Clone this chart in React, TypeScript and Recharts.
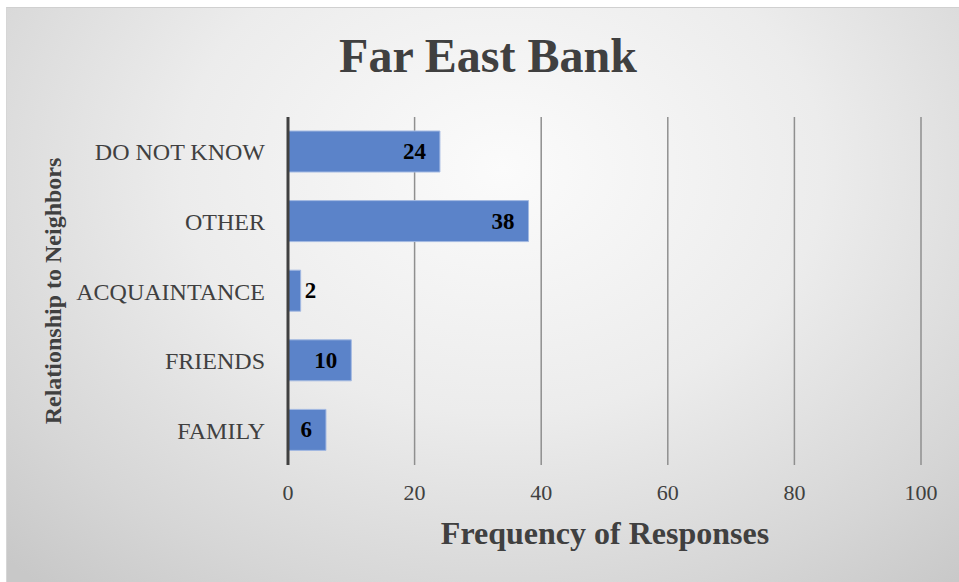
import React from "react";
import { BarChart, Bar, XAxis, YAxis, CartesianGrid, LabelList } from "recharts";

const categories = ["DO NOT KNOW", "OTHER", "ACQUAINTANCE", "FRIENDS", "FAMILY"];
const frequencies = [24, 38, 2, 10, 6];
const xTicks = [0, 20, 40, 60, 80, 100];

const data = categories.map((c, i) => ({ category: c, value: frequencies[i] }));

const FONT = "'Liberation Serif', 'Times New Roman', serif";

const ValueLabel = (props: any) => {
  const { x, y, width, height, value } = props;
  const inside = width > 30;
  return (
    <text
      x={inside ? x + width - 14 : x + width + 4}
      y={y + height / 2}
      textAnchor={inside ? "end" : "start"}
      dominantBaseline="central"
      fontFamily={FONT}
      fontWeight="bold"
      fontSize={23}
      fill="#000"
    >
      {value}
    </text>
  );
};

export default function App() {
  return (
    <div style={{ position: "absolute", left: 0, top: 0, width: 959, height: 582, background: "#fff" }}>
      <div
        style={{
          position: "absolute",
          left: 6,
          top: 7,
          width: 953,
          height: 575,
          borderTop: "1px solid #d0d0d0",
          borderLeft: "1px solid #d6d6d6",
          boxSizing: "border-box",
          background:
            "radial-gradient(ellipse 75% 95% at 52% 28%, #fbfbfb 0%, #ececec 45%, #d6d6d6 80%, #c8c8c8 100%)",
        }}
      >
        <BarChart
          width={953}
          height={574}
          data={data}
          layout="vertical"
          margin={{ top: 109, right: 39, left: 0, bottom: 0 }}
          barSize={41}
        >
          <CartesianGrid horizontal={false} vertical stroke="#8f8f8f" strokeWidth={1.5} />
          <XAxis
            type="number"
            domain={[0, 100]}
            ticks={xTicks}
            interval={0}
            axisLine={false}
            tickLine={false}
            height={117}
            tickMargin={13}
            tick={{ fontFamily: FONT, fontSize: 22, fill: "#404040" }}
          />
          <YAxis
            type="category"
            dataKey="category"
            width={281}
            axisLine={{ stroke: "#404040", strokeWidth: 3 }}
            tickLine={false}
            tickMargin={17}
            tick={{ fontFamily: FONT, fontSize: 24, fill: "#404040" }}
          />
          <Bar
            dataKey="value"
            fill="#5b83c9"
            stroke="#a3b9e2"
            strokeWidth={1}
            isAnimationActive={false}
          >
            <LabelList dataKey="value" content={<ValueLabel />} />
          </Bar>
          <text
            x={481}
            y={47}
            textAnchor="middle"
            dominantBaseline="central"
            fontFamily={FONT}
            fontWeight="bold"
            fontSize={48}
            fill="#404040"
          >
            Far East Bank
          </text>
          <text
            x={598}
            y={525}
            textAnchor="middle"
            dominantBaseline="central"
            fontFamily={FONT}
            fontWeight="bold"
            fontSize={32}
            fill="#404040"
          >
            Frequency of Responses
          </text>
          <text
            x={0}
            y={0}
            transform="translate(46, 283) rotate(-90)"
            textAnchor="middle"
            dominantBaseline="central"
            fontFamily={FONT}
            fontWeight="bold"
            fontSize={24}
            fill="#404040"
          >
            Relationship to Neighbors
          </text>
        </BarChart>
      </div>
    </div>
  );
}
